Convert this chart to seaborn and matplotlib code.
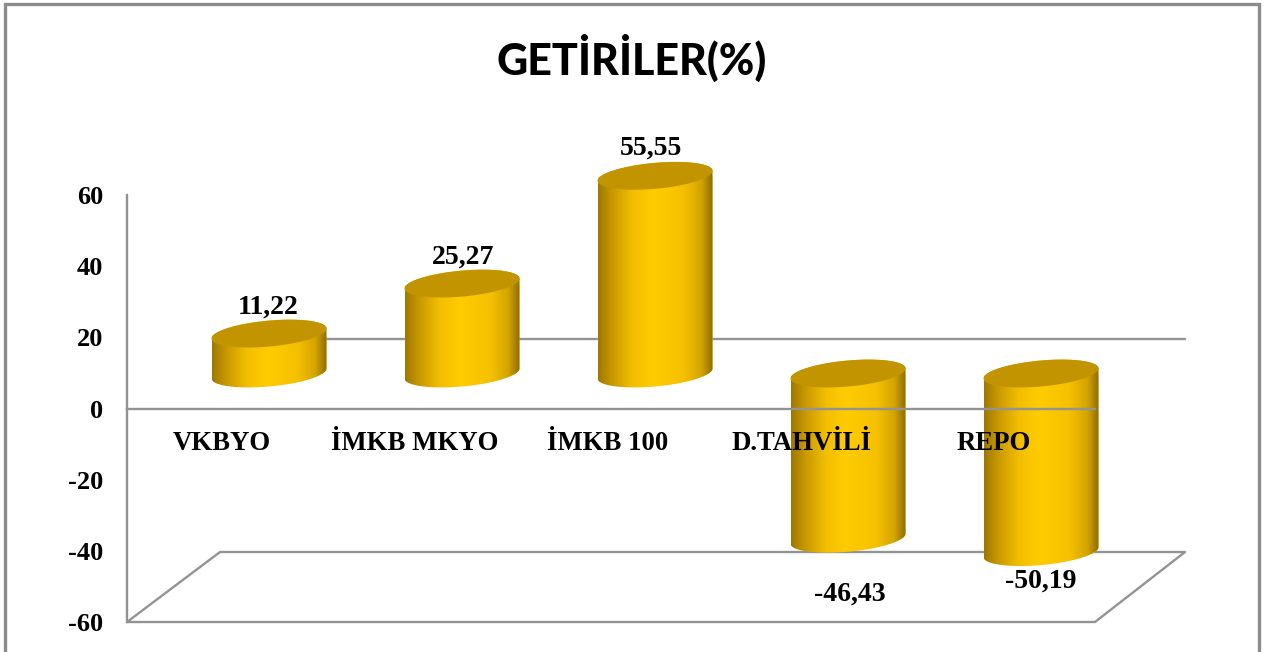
import numpy as np
import pandas as pd
import seaborn as sns
import matplotlib.pyplot as plt
from matplotlib.colors import LinearSegmentedColormap
from matplotlib.patches import PathPatch, Polygon, Rectangle
from matplotlib.path import Path

categories = ["VKBYO", "İMKB MKYO", "İMKB 100", "D.TAHVİLİ", "REPO"]
values = [11.22, 25.27, 55.55, -46.43, -50.19]
value_labels = ["11,22", "25,27", "55,55", "-46,43", "-50,19"]
y_ticks = [-60, -40, -20, 0, 20, 40, 60]

# tamanos en pixeles de la imagen
W, H = 1269, 652
AX_L, AX_R, AX_T, AX_B = 127, 1095, 195, 622
GRAY = "#939393"
SERIF = "Liberation Serif"

sns.set_theme(style="white")
plt.rcParams["font.family"] = SERIF

fig = plt.figure(figsize=(W / 100, H / 100), dpi=100)
ax = fig.add_axes([AX_L / W, 1 - AX_B / H, (AX_R - AX_L) / W, (AX_B - AX_T) / H])

px_x = 1 / 193.0            # una categoria son 193 px
px_y = 120.0 / (AX_B - AX_T)
depth = 35 * px_y           # las barras estan a media profundidad

df = pd.DataFrame({"cat": categories, "val": values})
sns.barplot(data=df, x="cat", y="val", color="#FFCC00", width=115 * px_x,
            bottom=depth, saturation=1, ax=ax, zorder=2)

ax.set_xlim((AX_L - 269) * px_x, (AX_R - 269) * px_x)
ax.set_ylim(-60, 60)

# gradiente del cilindro
cyl = LinearSegmentedColormap.from_list(
    "cyl", [(0, "#9E7800"), (0.12, "#C89800"), (0.3, "#F2BE00"), (0.48, "#FFCC00"),
            (0.75, "#F5C000"), (0.9, "#D4A400"), (1, "#8F6C00")])
grad = np.linspace(0, 1, 256).reshape(1, -1)
t = np.linspace(0, 2 * np.pi, 100)


def elipse(cx, cy, half, t):
    # elipse inclinada: sube hacia la derecha
    x = cx + half * np.cos(t)
    y = cy + (5 * np.cos(t) - 13 * np.sin(t)) * px_y
    return np.column_stack([x, y])


for bar in list(ax.patches[:len(values)]):
    x0 = bar.get_x()
    half = bar.get_width() / 2
    cx = x0 + half
    y_hi = max(bar.get_y(), bar.get_y() + bar.get_height())
    y_lo = min(bar.get_y(), bar.get_y() + bar.get_height())

    t_front = np.linspace(0, np.pi, 60)
    verts = np.vstack([elipse(cx, y_lo, half, t_front), elipse(cx, y_hi, half, t_front + np.pi)])
    body = PathPatch(Path(np.vstack([verts, verts[0]])), transform=ax.transData,
                     fc="none", ec="none", clip_on=False)
    ax.add_patch(body)
    bar.set_clip_path(body)
    bar.set_clip_box(None)
    img = ax.imshow(grad, cmap=cyl, aspect="auto", zorder=2.1,
                    extent=[x0, x0 + 2 * half, y_lo - 20, y_hi + 20])
    img.set_clip_path(body)
    img.set_clip_box(fig.bbox)  # las barras sobresalen de los ejes
    ax.add_patch(Polygon(elipse(cx, y_hi, half, t), closed=True, fc="#C29400",
                         ec="none", zorder=2.2, clip_on=False))

ax.set_xlim((AX_L - 269) * px_x, (AX_R - 269) * px_x)
ax.set_ylim(-60, 60)

# paredes y suelo
back = 70 * px_y
x_end = 1185
ax.plot([0, (x_end - 269) * px_x], [back, back], color=GRAY, lw=1.7, zorder=1, clip_on=False)
ax.plot([(AX_L - 269) * px_x, (220 - 269) * px_x, (x_end - 269) * px_x, (AX_R - 269) * px_x, (AX_L - 269) * px_x],
        [-60, -60 + back, -60 + back, -60, -60], color=GRAY, lw=1.7, zorder=1, clip_on=False)

for i, (v, lab) in enumerate(zip(values, value_labels)):
    off = {0: (-1, 26), 1: (1, 26), 2: (-4, 28), 3: (2, -55), 4: (0, -29)}[i]
    ax.annotate(lab, xy=(i, v + depth), xytext=(off[0] * 0.72, off[1] * 0.72),
                textcoords="offset points", ha="center", va="center", annotation_clip=False,
                fontsize=20, fontweight="bold", color="black", zorder=5)

sns.despine(ax=ax, top=True, right=True)
ax.spines["left"].set_color(GRAY)
ax.spines["left"].set_linewidth(1.7)
ax.spines["bottom"].set_position(("data", 0))
ax.spines["bottom"].set_color(GRAY)
ax.spines["bottom"].set_linewidth(1.7)
ax.set_axisbelow(False)
ax.patch.set_visible(False)

ax.set_xlabel("")
ax.set_ylabel("")
ax.set_yticks(y_ticks)
ax.set_yticklabels([str(v) for v in y_ticks], fontsize=19, fontweight="bold", color="black")
ax.set_xticks(np.arange(len(categories)) - 47 * px_x)
ax.set_xticklabels(categories, fontsize=19.3, fontweight="bold", color="black")
ax.tick_params(axis="x", length=0, pad=16)
ax.tick_params(axis="y", length=0, pad=17)

fig.text(632 / W, 1 - 58 / H, "GETİRİLER(%)", ha="center", va="center",
         fontsize=31, fontweight=900, family="Lato", color="black")

# marco exterior, se sale por abajo
fig.add_artist(Rectangle((5 / W, -0.05), (1259 - 5) / W, 1.05 - 4.5 / H, transform=fig.transFigure,
                         fc="none", ec="#8C8C8C", lw=2.4))

fig.savefig("out.png", dpi=100)
